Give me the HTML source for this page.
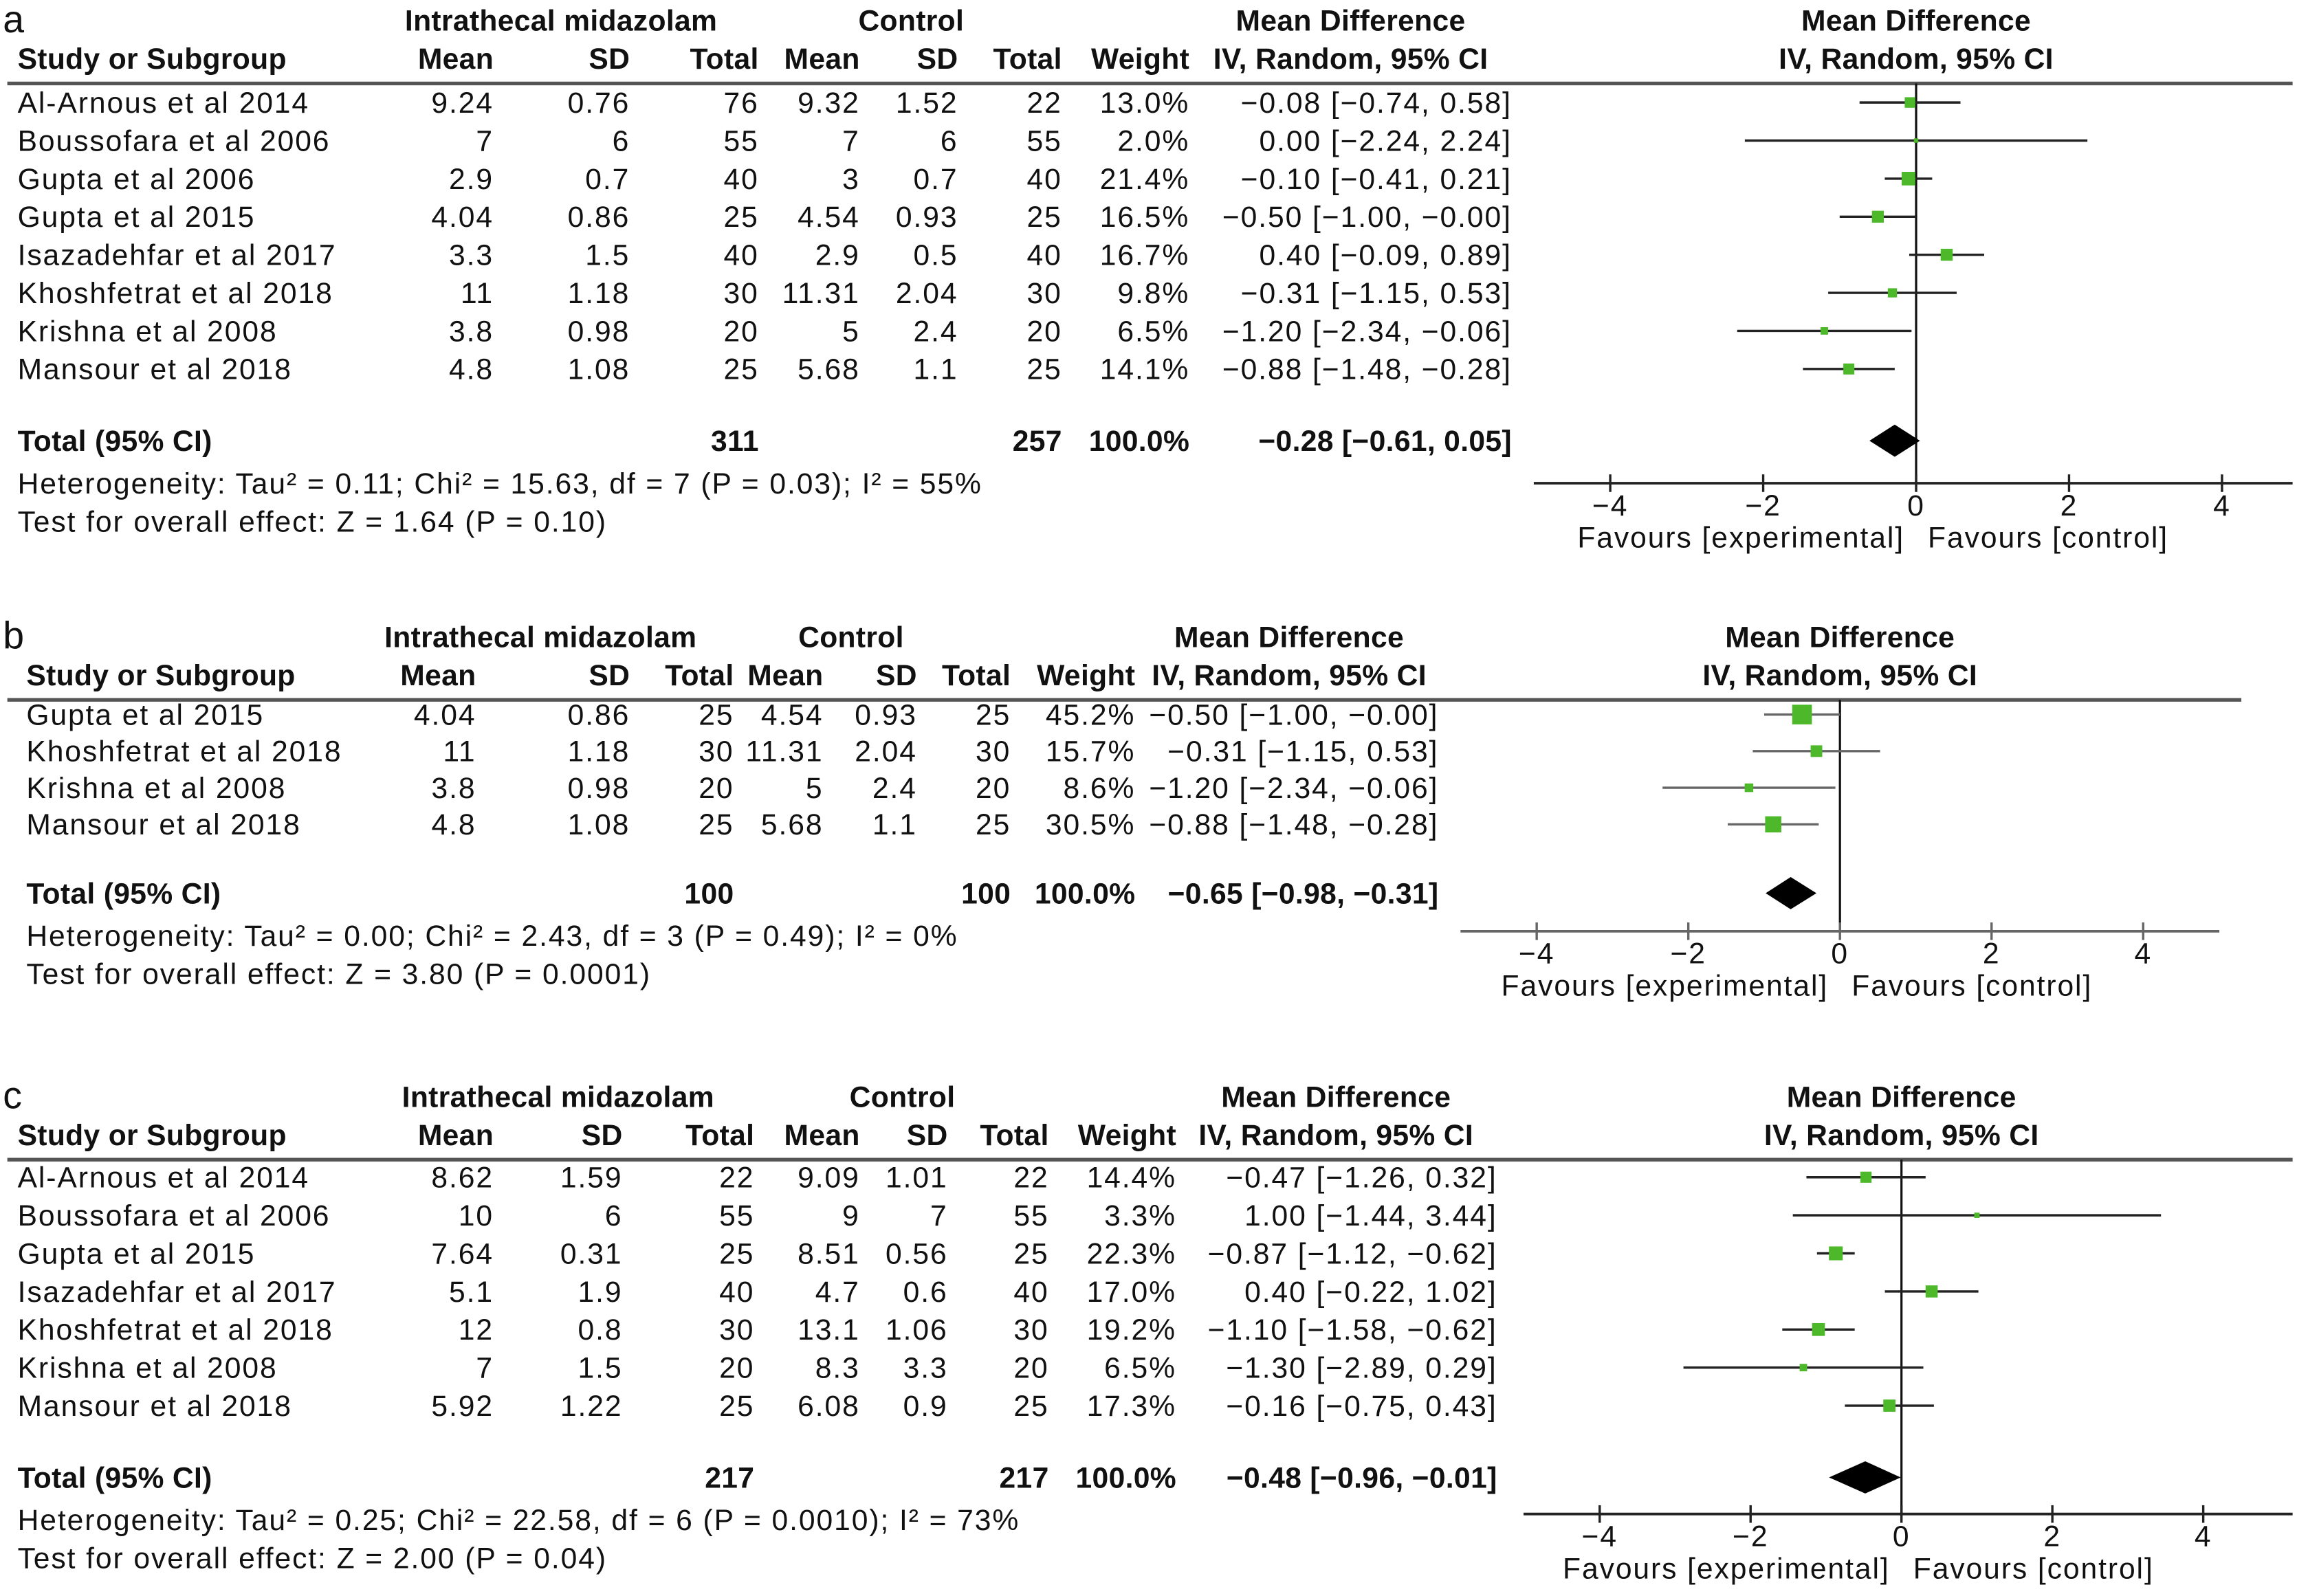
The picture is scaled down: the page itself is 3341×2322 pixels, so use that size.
<!DOCTYPE html>
<html><head><meta charset="utf-8"><style>
html,body{margin:0;padding:0;background:#fff;}
svg{display:block;}
text{font-family:"Liberation Sans",sans-serif;fill:#111;letter-spacing:0.9px;}
text[font-weight="bold"]{letter-spacing:0.15px;}
</style></head><body>
<svg id="chart" width="3341" height="2322" viewBox="0 0 1568 1090" preserveAspectRatio="none" xmlns="http://www.w3.org/2000/svg"></svg>
<script>
// Panel a data
const aStudies=["Al-Arnous et al 2014","Boussofara et al 2006","Gupta et al 2006","Gupta et al 2015","Isazadehfar et al 2017","Khoshfetrat et al 2018","Krishna et al 2008","Mansour et al 2018"];
const aExpMean=["9.24","7","2.9","4.04","3.3","11","3.8","4.8"];
const aExpSD=["0.76","6","0.7","0.86","1.5","1.18","0.98","1.08"];
const aExpN=["76","55","40","25","40","30","20","25"];
const aCtlMean=["9.32","7","3","4.54","2.9","11.31","5","5.68"];
const aCtlSD=["1.52","6","0.7","0.93","0.5","2.04","2.4","1.1"];
const aCtlN=["22","55","40","25","40","30","20","25"];
const aWeight=[13.0,2.0,21.4,16.5,16.7,9.8,6.5,14.1];
const aMD=[-0.08,0.00,-0.10,-0.50,0.40,-0.31,-1.20,-0.88];
const aLo=[-0.74,-2.24,-0.41,-1.00,-0.09,-1.15,-2.34,-1.48];
const aHi=[0.58,2.24,0.21,-0.00,0.89,0.53,-0.06,-0.28];
const aTotal=[-0.28,-0.61,0.05];
const aTotN=["311","257"];
const aHet="Heterogeneity: Tau² = 0.11; Chi² = 15.63, df = 7 (P = 0.03); I² = 55%";
const aTest="Test for overall effect: Z = 1.64 (P = 0.10)";
// Panel b data
const bStudies=["Gupta et al 2015","Khoshfetrat et al 2018","Krishna et al 2008","Mansour et al 2018"];
const bExpMean=["4.04","11","3.8","4.8"];
const bExpSD=["0.86","1.18","0.98","1.08"];
const bExpN=["25","30","20","25"];
const bCtlMean=["4.54","11.31","5","5.68"];
const bCtlSD=["0.93","2.04","2.4","1.1"];
const bCtlN=["25","30","20","25"];
const bWeight=[45.2,15.7,8.6,30.5];
const bMD=[-0.50,-0.31,-1.20,-0.88];
const bLo=[-1.00,-1.15,-2.34,-1.48];
const bHi=[-0.00,0.53,-0.06,-0.28];
const bTotal=[-0.65,-0.98,-0.31];
const bTotN=["100","100"];
const bHet="Heterogeneity: Tau² = 0.00; Chi² = 2.43, df = 3 (P = 0.49); I² = 0%";
const bTest="Test for overall effect: Z = 3.80 (P = 0.0001)";
// Panel c data
const cStudies=["Al-Arnous et al 2014","Boussofara et al 2006","Gupta et al 2015","Isazadehfar et al 2017","Khoshfetrat et al 2018","Krishna et al 2008","Mansour et al 2018"];
const cExpMean=["8.62","10","7.64","5.1","12","7","5.92"];
const cExpSD=["1.59","6","0.31","1.9","0.8","1.5","1.22"];
const cExpN=["22","55","25","40","30","20","25"];
const cCtlMean=["9.09","9","8.51","4.7","13.1","8.3","6.08"];
const cCtlSD=["1.01","7","0.56","0.6","1.06","3.3","0.9"];
const cCtlN=["22","55","25","40","30","20","25"];
const cWeight=[14.4,3.3,22.3,17.0,19.2,6.5,17.3];
const cMD=[-0.47,1.00,-0.87,0.40,-1.10,-1.30,-0.16];
const cLo=[-1.26,-1.44,-1.12,-0.22,-1.58,-2.89,-0.75];
const cHi=[0.32,3.44,-0.62,1.02,-0.62,0.29,0.43];
const cTotal=[-0.48,-0.96,-0.01];
const cTotN=["217","217"];
const cHet="Heterogeneity: Tau² = 0.25; Chi² = 22.58, df = 6 (P = 0.0010); I² = 73%";
const cTest="Test for overall effect: Z = 2.00 (P = 0.04)";
const tickVals=[-4,-2,0,2,4];

const svg=document.getElementById('chart');
const NS="http://www.w3.org/2000/svg";
function el(tag,attrs,txt){const e=document.createElementNS(NS,tag);for(const k in attrs)e.setAttribute(k,attrs[k]);if(txt!==undefined)e.textContent=txt;svg.appendChild(e);return e;}
function fmt(v){let s=Math.abs(v).toFixed(2);return (v<0||Object.is(v,-0)?"−":"")+s;}
function ci(m,l,h){return fmt(m)+" ["+fmt(l)+", "+fmt(h)+"]";}

function panel(p){
  const t=(x,y,s,o)=>{o=o||{};const e=el('text',{x:x,y:y,'font-size':o.fs||20,'font-weight':o.b?'bold':'normal','text-anchor':o.a||'start'},s);return e;};
  let e=t(2,p.y0+15,p.label,{fs:26});
  
  
  const h1=p.y0+14, h2=p.y0+40;
  [[p.c.expC,"Intrathecal midazolam"],[p.c.ctlC,"Control"],[p.c.mdC,"Mean Difference"],[p.zero,"Mean Difference"]].forEach(([x,s],i)=>{
    e=t(x,h1,s,{b:1,a:'middle'});
    
    
  });
  e=t(p.c.study,h2,"Study or Subgroup",{b:1});
  
  
  const hdrs=[[p.c.m1,"Mean"],[p.c.s1,"SD"],[p.c.n1,"Total"],[p.c.m2,"Mean"],[p.c.s2,"SD"],[p.c.n2,"Total"],[p.c.w,"Weight"]];
  hdrs.forEach(([x,s])=>{e=t(x,h2,s,{b:1,a:'end'});
    
    });
  e=t(p.c.mdC,h2,"IV, Random, 95% CI",{b:1,a:'middle'});
  
  
  e=t(p.zero,h2,"IV, Random, 95% CI",{b:1,a:'middle'});
  
  
  const ly=p.y0+50;
  e=el('line',{x1:5,x2:p.lineEnd,y1:ly,y2:ly,stroke:'#555','stroke-width':2.5});
  
  
  const X=v=>p.zero+v*p.unit;
  e=el('line',{x1:X(0),x2:X(0),y1:ly,y2:p.axisY,stroke:'#111','stroke-width':1.5});
  
  
  p.d.studies.forEach((s,i)=>{
    const y=p.rowY0+i*p.rowH, ty=y+7;
    e=t(p.c.study,ty,s);
    
    
    [[p.c.m1,p.d.em[i]],[p.c.s1,p.d.es[i]],[p.c.n1,p.d.en[i]],[p.c.m2,p.d.cm[i]],[p.c.s2,p.d.cs[i]],[p.c.n2,p.d.cn[i]],[p.c.w,p.d.w[i].toFixed(1)+"%"],[p.c.md,ci(p.d.md[i],p.d.lo[i],p.d.hi[i])]].forEach(([x,v])=>{
      e=t(x,ty,v,{a:'end'});
      
      
    });
    e=el('line',{x1:X(p.d.lo[i]),x2:X(p.d.hi[i]),y1:y,y2:y,stroke:p.ciCol,'stroke-width':1.6});
    
    
    const sz=Math.max(3,Math.sqrt(p.d.w[i])*2.0);
    e=el('rect',{x:X(p.d.md[i])-sz/2,y:y-sz/2,width:sz,height:sz,fill:'#4cb82a'});
    
    
  });
  const ty=p.totY+7;
  e=t(p.c.study,ty,"Total (95% CI)",{b:1});
  
  
  [[p.c.n1,p.d.tn[0]],[p.c.n2,p.d.tn[1]],[p.c.w,"100.0%"],[p.c.md,ci(p.d.tot[0],p.d.tot[1],p.d.tot[2])]].forEach(([x,v])=>{
    e=t(x,ty,v,{b:1,a:'end'});
    
    
  });
  const dy=p.totY;
  e=el('polygon',{points:`${X(p.d.tot[1])},${dy} ${X(p.d.tot[0])},${dy-11} ${X(p.d.tot[2])},${dy} ${X(p.d.tot[0])},${dy+11}`,fill:'#000'});
  
  
  e=t(p.c.study,p.totY+36,p.d.het);
  
  
  e=t(p.c.study,p.totY+62,p.d.test);
  
  
  e=el('line',{x1:p.axX1,x2:p.axX2,y1:p.axisY,y2:p.axisY,stroke:p.axCol,'stroke-width':1.8});
  
  
  tickVals.forEach(v=>{
    e=el('line',{x1:X(v),x2:X(v),y1:p.axisY-6,y2:p.axisY+6,stroke:p.axCol,'stroke-width':1.6});
    
    
    e=t(X(v),p.axisY+22,(v<0?"−":"")+Math.abs(v),{a:'middle'});
    
    
  });
  e=t(X(0)-8,p.axisY+44,"Favours [experimental]",{a:'end'});
  
  
  e=t(X(0)+8,p.axisY+44,"Favours [control]",{a:'start'});
  
  
}

panel({label:'a',y0:7,lineEnd:1565,zero:1308,unit:52.2,axisY:330,axX1:1047,axX2:1565,rowY0:70,rowH:26,totY:301,ciCol:'#222',axCol:'#222',
  c:{study:12,m1:337,s1:430,n1:518,m2:587,s2:654,n2:725,w:812,md:1032,expC:383,ctlC:622,mdC:922},
  d:{studies:aStudies,em:aExpMean,es:aExpSD,en:aExpN,cm:aCtlMean,cs:aCtlSD,cn:aCtlN,w:aWeight,md:aMD,lo:aLo,hi:aHi,tot:aTotal,tn:aTotN,het:aHet,test:aTest}});
panel({label:'b',y0:428,lineEnd:1530,zero:1256,unit:51.75,axisY:636,axX1:997,axX2:1515,rowY0:488,rowH:25,totY:610,ciCol:'#666',axCol:'#666',
  c:{study:18,m1:325,s1:430,n1:501,m2:562,s2:626,n2:690,w:775,md:982,expC:369,ctlC:581,mdC:880},
  d:{studies:bStudies,em:bExpMean,es:bExpSD,en:bExpN,cm:bCtlMean,cs:bCtlSD,cn:bCtlN,w:bWeight,md:bMD,lo:bLo,hi:bHi,tot:bTotal,tn:bTotN,het:bHet,test:bTest}});
panel({label:'c',y0:742,lineEnd:1565,zero:1298,unit:51.5,axisY:1034,axX1:1040,axX2:1565,rowY0:804,rowH:26,totY:1009,ciCol:'#222',axCol:'#222',
  c:{study:12,m1:337,s1:425,n1:515,m2:587,s2:647,n2:716,w:803,md:1022,expC:381,ctlC:616,mdC:912},
  d:{studies:cStudies,em:cExpMean,es:cExpSD,en:cExpN,cm:cCtlMean,cs:cCtlSD,cn:cCtlN,w:cWeight,md:cMD,lo:cLo,hi:cHi,tot:cTotal,tn:cTotN,het:cHet,test:cTest}});
</script>
</body></html>
